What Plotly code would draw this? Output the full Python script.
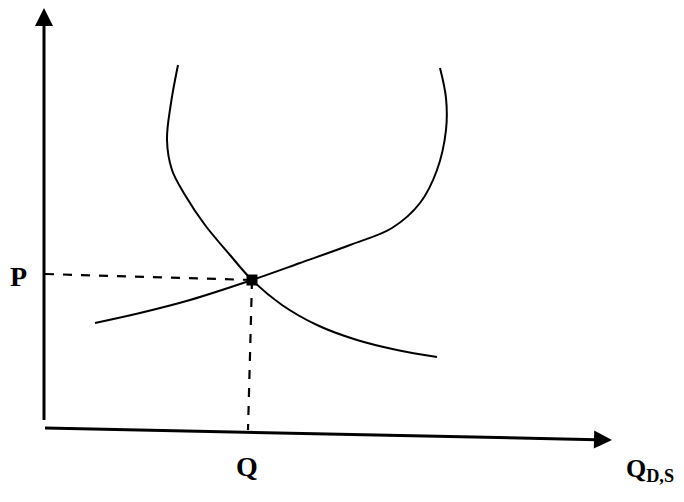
import plotly.graph_objects as go

# Diagram units: origin at the axes intersection, x to the right, y upward
demand_x = [136, 129, 125, 130, 143, 163, 188, 210, 240, 275, 315, 355, 395]
demand_y = [363, 325, 288, 258, 233, 203, 173, 148, 123, 103, 88, 78, 71]

supply_x = [53, 98, 148, 210, 258, 308, 350, 378, 395, 404, 404, 398]
supply_y = [105, 115, 128, 148, 165, 183, 200, 225, 258, 298, 330, 360]

eq_x = 210
eq_y = 148

axis_x_end = 570
axis_y_end = 420

label_P = "P"
label_Q = "Q"
label_QDS = "Q<sub>D,S</sub>"

fig = go.Figure()

# dashed guide lines
fig.add_trace(go.Scatter(x=[3, eq_x], y=[eq_y + 6, eq_y], mode="lines",
                         line=dict(color="black", width=2.2, dash="dash"),
                         hoverinfo="skip", showlegend=False))
fig.add_trace(go.Scatter(x=[eq_x, eq_x - 4], y=[eq_y, -2], mode="lines",
                         line=dict(color="black", width=2.2, dash="dash"),
                         hoverinfo="skip", showlegend=False))

fig.add_trace(go.Scatter(x=demand_x, y=demand_y, mode="lines",
                         line=dict(color="black", width=2, shape="spline", smoothing=1.0),
                         showlegend=False))
fig.add_trace(go.Scatter(x=supply_x, y=supply_y, mode="lines",
                         line=dict(color="black", width=2, shape="spline", smoothing=1.0),
                         showlegend=False))
fig.add_trace(go.Scatter(x=[eq_x], y=[eq_y], mode="markers",
                         marker=dict(color="black", size=11, symbol="square"),
                         showlegend=False))

# axes with arrows
fig.add_annotation(x=2, y=axis_y_end, ax=2, ay=-2, xref="x", yref="y", axref="x", ayref="y",
                   showarrow=True, arrowhead=2, arrowsize=1.2, arrowwidth=3, arrowcolor="black", text=" ")
fig.add_annotation(x=axis_x_end, y=-12, ax=0, ay=0, xref="x", yref="y", axref="x", ayref="y",
                   showarrow=True, arrowhead=2, arrowsize=1.2, arrowwidth=3, arrowcolor="black", text=" ")

font = dict(family="Liberation Serif", size=28, color="black")
fig.add_annotation(x=-24, y=152, text="<b>%s</b>" % label_P, showarrow=False, font=font)
fig.add_annotation(x=205, y=-38, text="<b>%s</b>" % label_Q, showarrow=False, font=font)
fig.add_annotation(x=608, y=-42, text="<b>%s</b>" % label_QDS, showarrow=False,
                   font=dict(family="Liberation Serif", size=26, color="black"))

fig.update_layout(
    width=684, height=502,
    margin=dict(l=0, r=0, t=0, b=0),
    paper_bgcolor="white", plot_bgcolor="white",
    xaxis=dict(range=[-34, 650], visible=False, fixedrange=True),
    yaxis=dict(range=[-82, 420], visible=False, fixedrange=True),
)

fig.write_html("out.html")
